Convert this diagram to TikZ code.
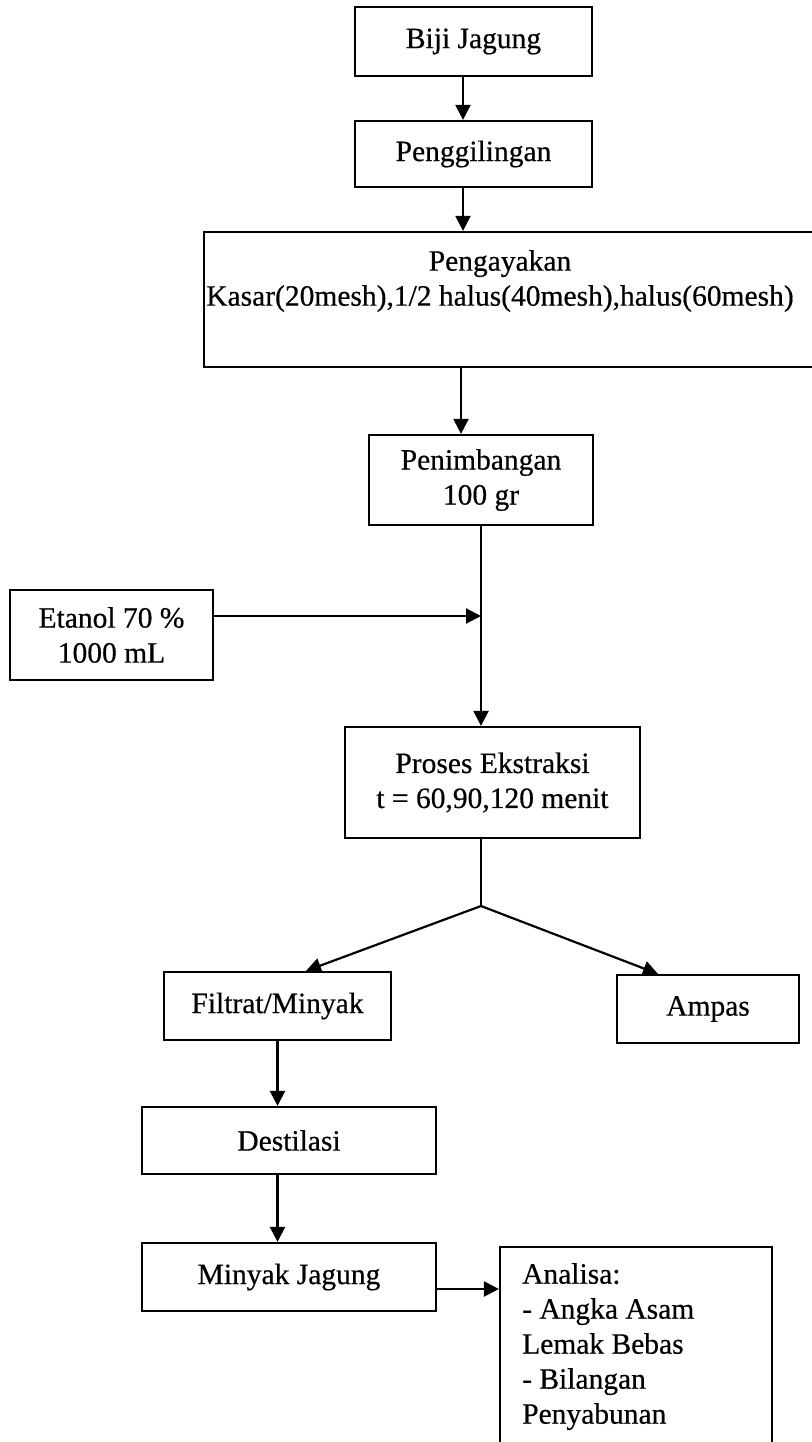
\documentclass[tikz,border=0pt]{standalone}
\usepackage{fontspec}
\setmainfont{Liberation Serif}[FakeBold=0.5]
\usetikzlibrary{arrows.meta}
\begin{document}
\begin{tikzpicture}[x=1pt,y=-1pt,
  every node/.style={font=\fontsize{29.5}{35}\selectfont, inner sep=0pt},
  box/.style={draw, line width=2.2pt, rectangle, align=center},
  arr/.style={line width=2.2pt, -{Triangle[length=15pt,width=15pt]}},
  ln/.style={line width=2.2pt}]
\useasboundingbox (0,0) rectangle (811,1442);
\fill[white] (0,0) rectangle (811,1442);
% boxes
\node[box, minimum width=237pt, minimum height=69pt] (biji) at (473.5,41.5) {Biji Jagung};
\node[box, minimum width=237pt, minimum height=66pt] (giling) at (473.5,154) {Penggilingan};
\node[box, minimum width=612pt, minimum height=135pt] (ayak) at (510,299.5) {};
\node[anchor=north, align=center] (ayaktext) at (500,250) {Pengayakan\\Kasar(20mesh),1/2 halus(40mesh),halus(60mesh)};
\node[box, minimum width=224pt, minimum height=90pt] (timbang) at (481,480) {Penimbangan\\100 gr};
\node[box, minimum width=203pt, minimum height=90pt] (etanol) at (111.5,635) {Etanol 70 \%\\1000 mL};
\node[box, minimum width=295pt, minimum height=111pt] (proses) at (492.5,782.5) {Proses Ekstraksi\\t = 60,90,120 menit};
\node[box, minimum width=227pt, minimum height=68pt] (filtrat) at (277.5,1006) {Filtrat/Minyak};
\node[box, minimum width=182pt, minimum height=68pt] (ampas) at (708,1009) {Ampas};
\node[box, minimum width=294pt, minimum height=67pt] (destilasi) at (289,1140.5) {Destilasi};
\node[box, minimum width=294pt, minimum height=68pt] (minyak) at (289,1277) {Minyak Jagung};
\node[box, minimum width=272pt, minimum height=213pt] (analisa) at (636,1353.5) {};
\node[anchor=north west, align=left] (analisatext) at (522,1263) {Analisa:\\- Angka Asam\\Lemak Bebas\\- Bilangan\\Penyabunan};
% connectors
\draw[arr] ([xshift=-10.5pt]biji.south) -- ([xshift=-10.5pt]giling.north);
\draw[arr] ([xshift=-10.5pt]giling.south) -- ([xshift=-10.5pt]giling.south |- ayak.north);
\draw[arr] ([xshift=-20pt]timbang.north |- ayak.south) -- ([xshift=-20pt]timbang.north);
\draw[arr] (timbang.south) -- (timbang.south |- proses.north);
\draw[arr] ([yshift=19pt]etanol.east) -- ([yshift=19pt]etanol.east -| timbang.south);
\coordinate (jn) at (481,906);
\draw[ln] (proses.south -| jn) -- (jn);
\draw[arr] (jn) -- ([xshift=28.5pt]filtrat.north);
\draw[arr] (jn) -- ([xshift=-50pt]ampas.north);
\draw[arr] (filtrat.south) -- (filtrat.south |- destilasi.north);
\draw[arr] (filtrat.south |- destilasi.south) -- (filtrat.south |- minyak.north);
\draw[arr] ([yshift=-12pt]minyak.east) -- ([yshift=-12pt]minyak.east -| analisa.west);
\end{tikzpicture}
\end{document}
